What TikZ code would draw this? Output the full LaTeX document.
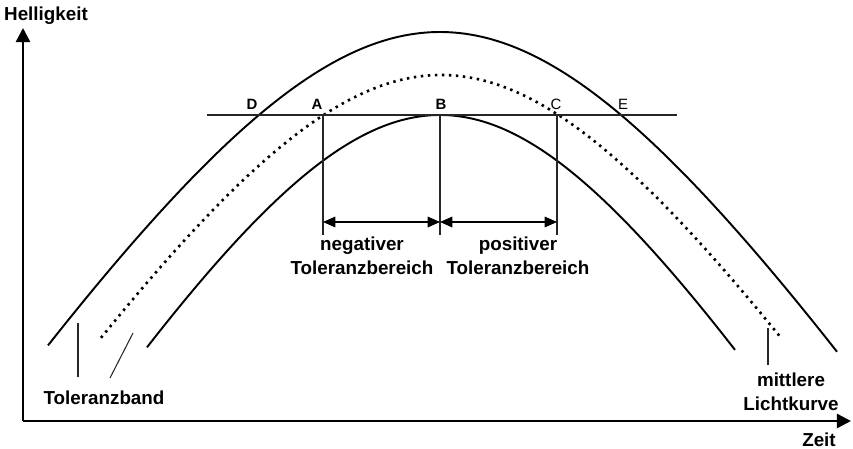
\documentclass[tikz,border=0pt]{standalone}
\usepackage{fontspec}
\setmainfont{Liberation Sans}
\usetikzlibrary{arrows.meta}

\begin{document}
\begin{tikzpicture}[x=0.02cm, y=-0.02cm, line width=1.1pt,
    achse/.style={line width=1.4pt, -{Triangle[length=8pt, width=8pt]}},
    kurve/.style={line width=1.1pt},
    mittel/.style={line width=1.5pt, dash pattern=on 1.4pt off 2.6pt},
    duenn/.style={line width=0.6pt, black!85},
    mass/.style={line width=0.9pt, {Triangle[length=7pt, width=6pt]}-{Triangle[length=7pt, width=6pt]}},
    txt/.style={font=\bfseries\fontsize{10.7}{13.5}\selectfont, inner sep=0pt},
    punkt/.style={font=\fontsize{8.5}{10}\selectfont, inner sep=0pt}]
  \useasboundingbox (0,0) rectangle (853,449);
  % --- Achsen ---
  \coordinate (O) at (23,421);
  \coordinate (yEnd) at (23,28);
  \coordinate (xEnd) at (851,421);
  \draw[achse] (O) -- (yEnd);
  \draw[achse] (O) -- (xEnd);
  \node[txt] (hell) at (46,16) {Helligkeit};
  \node[txt] (zeit) at (819,440) {Zeit};
  % --- Toleranzband (oben / unten) und mittlere Lichtkurve ---
  \draw[kurve] plot[domain=-392:397, samples=90, smooth] ({440+\x},{32+435*(sqrt(1+(\x/280)^2)-1)});
  \draw[kurve] plot[domain=-293:295, samples=80, smooth] ({440+\x},{115+375*(sqrt(1+(\x/230)^2)-1)});
  \draw[mittel] plot[domain=-340:341, samples=90, smooth] ({441+\x},{75+382*(sqrt(1+(\x/250)^2)-1)});
  % --- Schwellenlinie und Punkte ---
  \coordinate (hL) at (207,115);
  \coordinate (hR) at (677,115);
  \draw[duenn] (hL) -- (hR);
  \coordinate (A) at (323,115);
  \coordinate (B) at (440,115);
  \coordinate (C) at (557,115);
  \coordinate (unten) at (0,235);
  \coordinate (pfeil) at (0,222);
  \foreach \p in {A,B,C} { \draw[duenn] (\p) -- (\p |- unten); }
  \draw[mass] (A |- pfeil) -- (B |- pfeil);
  \draw[mass] (B |- pfeil) -- (C |- pfeil);
  \node[punkt, font=\bfseries\fontsize{8.5}{10}\selectfont] (lblD) at (252,104) {D};
  \node[punkt, font=\bfseries\fontsize{8.5}{10}\selectfont] (lblA) at (317,104) {A};
  \node[punkt, font=\bfseries\fontsize{8.5}{10}\selectfont] (lblB) at (441,104) {B};
  \node[punkt] (lblC) at (556,104) {C};
  \node[punkt] (lblE) at (623,104) {E};
  % --- Beschriftungen ---
  \node[txt, align=center] (neg) at (362,256) {negativer\\Toleranzbereich};
  \node[txt, align=center] (pos) at (518,256) {positiver\\Toleranzbereich};
  \node[txt] (band) at (104,398) {Toleranzband};
  \node[txt, align=center] (mitte) at (791,392) {mittlere\\Lichtkurve};
  \coordinate (b1o) at (78,323);
  \coordinate (b1u) at (78,377);
  \coordinate (b2o) at (133,333);
  \coordinate (b2u) at (110,378);
  \coordinate (m1o) at (768,328);
  \coordinate (m1u) at (768,365);
  \draw[duenn] (b1o) -- (b1u);
  \draw[duenn] (b2o) -- (b2u);
  \draw[duenn] (m1o) -- (m1u);
\end{tikzpicture}
\end{document}
